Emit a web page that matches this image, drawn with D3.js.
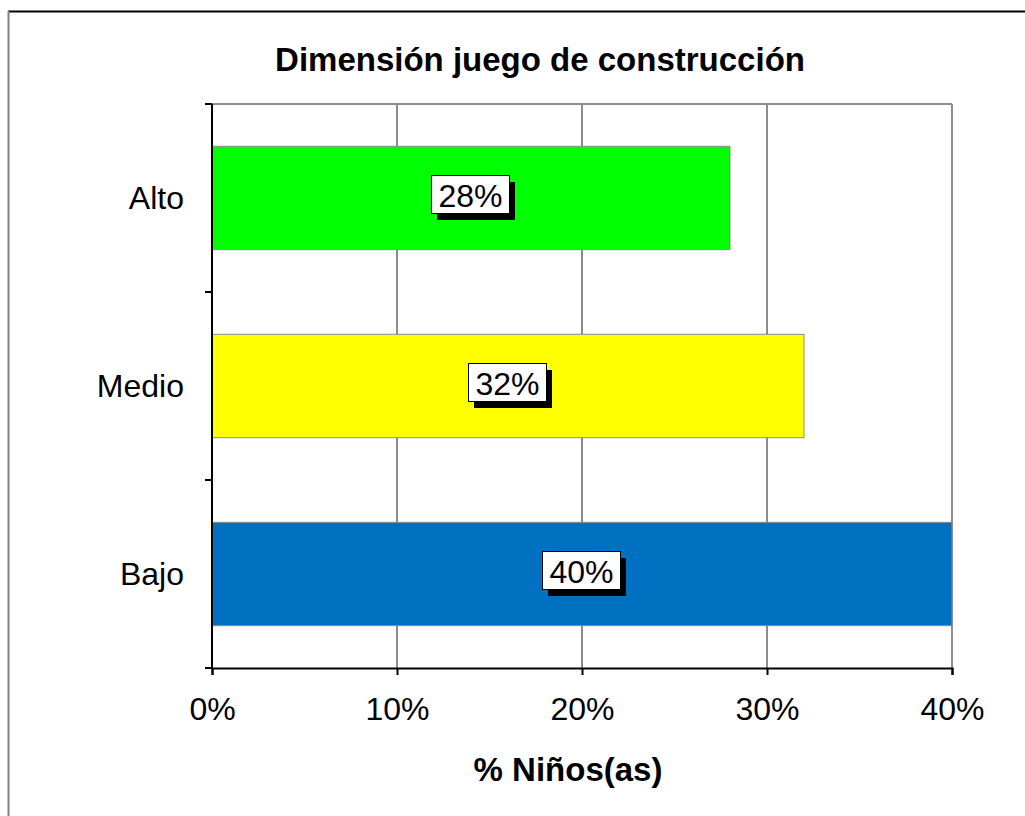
<!DOCTYPE html>
<html>
<head>
<meta charset="utf-8">
<script src="https://cdn.jsdelivr.net/npm/d3@7"></script>
<style>
  body { margin: 0; background: #fff; }
  text { font-family: Arial, "Liberation Sans", sans-serif; }
</style>
</head>
<body>
<svg id="chart" width="1025" height="816"></svg>
<script>
// data
var categories = ["Alto", "Medio", "Bajo"];
var values = [0.28, 0.32, 0.40];
var colors = ["#00ff00", "#ffff00", "#0070c0"];
var xTicks = [0, 0.1, 0.2, 0.3, 0.4];

var svg = d3.select("#chart");
var plotLeft = 212, plotRight = 952, plotTop = 104, plotBottom = 668;

// outer frame (only top + left visible)
svg.append("line").attr("x1", 8).attr("x2", 1025).attr("y1", 11.5).attr("y2", 11.5)
    .attr("stroke", "#000").attr("stroke-width", 2);
svg.append("line").attr("x1", 8.5).attr("x2", 8.5).attr("y1", 11).attr("y2", 816)
    .attr("stroke", "#808080").attr("stroke-width", 2);

var x = d3.scaleLinear().domain([0, 0.4]).range([plotLeft, plotRight]);
var y = d3.scaleBand().domain(categories).range([plotTop, plotBottom]).paddingInner(0.45).paddingOuter(0.225);

// gridlines
svg.append("g").selectAll("line")
    .data(xTicks.slice(1))
    .enter().append("line")
    .attr("x1", function(d) { return x(d); })
    .attr("x2", function(d) { return x(d); })
    .attr("y1", plotTop).attr("y2", plotBottom)
    .attr("stroke", "#8c8c8c").attr("stroke-width", 2);
svg.append("line").attr("x1", plotLeft).attr("x2", plotRight).attr("y1", plotTop).attr("y2", plotTop)
    .attr("stroke", "#8c8c8c").attr("stroke-width", 2);

// bars
svg.append("g").selectAll("rect")
    .data(values)
    .enter().append("rect")
    .attr("x", plotLeft)
    .attr("y", function(d, i) { return y(categories[i]); })
    .attr("width", function(d) { return x(d) - plotLeft; })
    .attr("height", y.bandwidth())
    .attr("fill", function(d, i) { return colors[i]; })
    .attr("stroke", "#8c8c8c").attr("stroke-width", 1);

// x axis
var xAxis = d3.axisBottom(x).tickValues(xTicks).tickFormat(d3.format(".0%")).tickSize(7).tickPadding(22);
var gx = svg.append("g").attr("transform", "translate(0," + plotBottom + ")").call(xAxis);
gx.select(".domain").attr("stroke", "#000").attr("stroke-width", 2);
gx.selectAll(".tick line").attr("stroke", "#000").attr("stroke-width", 2);
gx.selectAll("text").attr("font-size", 32).attr("fill", "#000")
    .style("font-family", "Arial, 'Liberation Sans', sans-serif");

// y axis: ticks at band boundaries
var yBound = d3.scaleLinear().domain([0, 3]).range([plotTop, plotBottom]);
var gy = svg.append("g");
gy.append("line").attr("x1", plotLeft).attr("x2", plotLeft).attr("y1", plotTop).attr("y2", plotBottom)
    .attr("stroke", "#000").attr("stroke-width", 2);
gy.selectAll("line.t").data(d3.range(4)).enter().append("line").attr("class", "t")
    .attr("x1", plotLeft - 7).attr("x2", plotLeft)
    .attr("y1", function(d) { return yBound(d); })
    .attr("y2", function(d) { return yBound(d); })
    .attr("stroke", "#000").attr("stroke-width", 2);
gy.selectAll("text").data(categories).enter().append("text")
    .attr("x", 184)
    .attr("y", function(d) { return y(d) + y.bandwidth() / 2; })
    .attr("dy", "0.34em")
    .attr("text-anchor", "end")
    .attr("font-size", 32)
    .text(function(d) { return d; });

// value labels with shadowed boxes
var labels = svg.append("g").selectAll("g")
    .data(values)
    .enter().append("g")
    .attr("transform", function(d, i) {
        var cx = plotLeft + (x(d) - plotLeft) / 2;
        var cy = y(categories[i]) + y.bandwidth() / 2;
        return "translate(" + cx + "," + cy + ")";
    });
labels.append("rect").attr("x", -34).attr("y", -16).attr("width", 78).attr("height", 38)
    .attr("fill", "#000");
labels.append("rect").attr("x", -39.5).attr("y", -22.5).attr("width", 78).attr("height", 38)
    .attr("fill", "#fff").attr("stroke", "#000").attr("stroke-width", 1);
labels.append("text")
    .attr("x", -0.5).attr("y", -3).attr("dy", "0.36em")
    .attr("text-anchor", "middle")
    .attr("font-size", 32)
    .text(function(d) { return d3.format(".0%")(d); });

// titles
svg.append("text").attr("x", 540).attr("y", 71).attr("text-anchor", "middle")
    .attr("font-size", 33).attr("font-weight", "bold")
    .text("Dimensión juego de construcción");
svg.append("text").attr("x", 568).attr("y", 781).attr("text-anchor", "middle")
    .attr("font-size", 33).attr("font-weight", "bold")
    .text("% Niños(as)");
</script>
</body>
</html>
